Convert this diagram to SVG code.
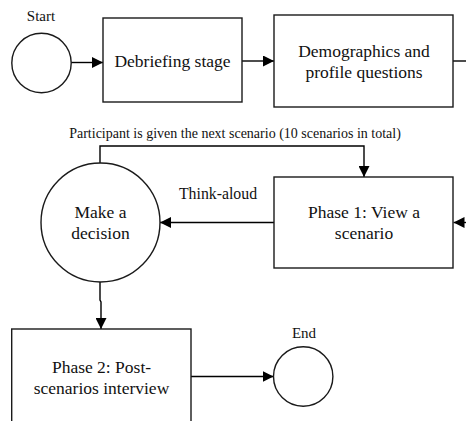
<svg xmlns="http://www.w3.org/2000/svg" width="466" height="421" viewBox="0 0 466 421">
<defs>
<marker id="ah" markerWidth="11" markerHeight="11" refX="11" refY="5.5" orient="auto" markerUnits="userSpaceOnUse">
<path d="M0,0 L11,5.5 L0,11 Z" fill="#000"/>
</marker>
<style>
.shape{fill:#fff;stroke:#1a1a1a;stroke-width:1.4}
.conn{fill:none;stroke:#000;stroke-width:1.4}
.t{font-family:"Liberation Serif","Times New Roman",serif;fill:#111;text-anchor:middle}
.big{font-size:17.5px}
.lbl{font-size:15px}
.sm{font-size:14px}
</style>
</defs>
<rect width="466" height="421" fill="#fff"/>
<g id="connectors">
<line class="conn" x1="71" y1="62.5" x2="103" y2="62.5" marker-end="url(#ah)"/>
<line class="conn" x1="242" y1="61" x2="274" y2="61" marker-end="url(#ah)"/>
<line class="conn" x1="453" y1="61" x2="466" y2="61"/>
<line class="conn" x1="470" y1="222.5" x2="453.5" y2="222.5" marker-end="url(#ah)"/>
<line class="conn" x1="274" y1="222.5" x2="160" y2="222.5" marker-end="url(#ah)"/>
<path class="conn" d="M100,163 V146 H364 V177" marker-end="url(#ah)"/>
<path class="conn" d="M100,282 V300 L101,302 V329" marker-end="url(#ah)"/>
<line class="conn" x1="191" y1="376.5" x2="273.5" y2="376.5" marker-end="url(#ah)"/>
<text class="t sm" x="235" y="138.3">Participant is given the next scenario (10 scenarios in total)</text>
<text class="t" style="font-size:15.8px" x="218" y="199.3">Think-aloud</text>
</g>
<g id="start">
<circle class="shape" cx="41.5" cy="63" r="29.7"/>
<text class="t lbl" x="41" y="20.7">Start</text>
</g>
<g id="debriefing">
<rect class="shape" x="103" y="18" width="139" height="84"/>
<text class="t big" x="172.5" y="66.5">Debriefing stage</text>
</g>
<g id="demographics">
<rect class="shape" x="274" y="15" width="179" height="92"/>
<text class="t big" x="364" y="56.7">Demographics and</text>
<text class="t big" x="364" y="77.5">profile questions</text>
</g>
<g id="phase1">
<rect class="shape" x="274" y="177" width="179" height="91"/>
<text class="t big" x="364" y="217.7">Phase 1: View a</text>
<text class="t big" x="364" y="238.5">scenario</text>
</g>
<g id="decision">
<circle class="shape" cx="100.5" cy="222.5" r="59.5"/>
<text class="t big" x="100.5" y="218.3">Make a</text>
<text class="t big" x="100.5" y="239">decision</text>
</g>
<g id="phase2">
<rect class="shape" x="11.7" y="329" width="179.3" height="110"/>
<text class="t big" x="101.5" y="373">Phase 2: Post-</text>
<text class="t big" x="101.5" y="393.5">scenarios interview</text>
</g>
<g id="end">
<circle class="shape" cx="303.2" cy="376.5" r="29.7"/>
<text class="t lbl" x="304" y="337.7">End</text>
</g>
</svg>
